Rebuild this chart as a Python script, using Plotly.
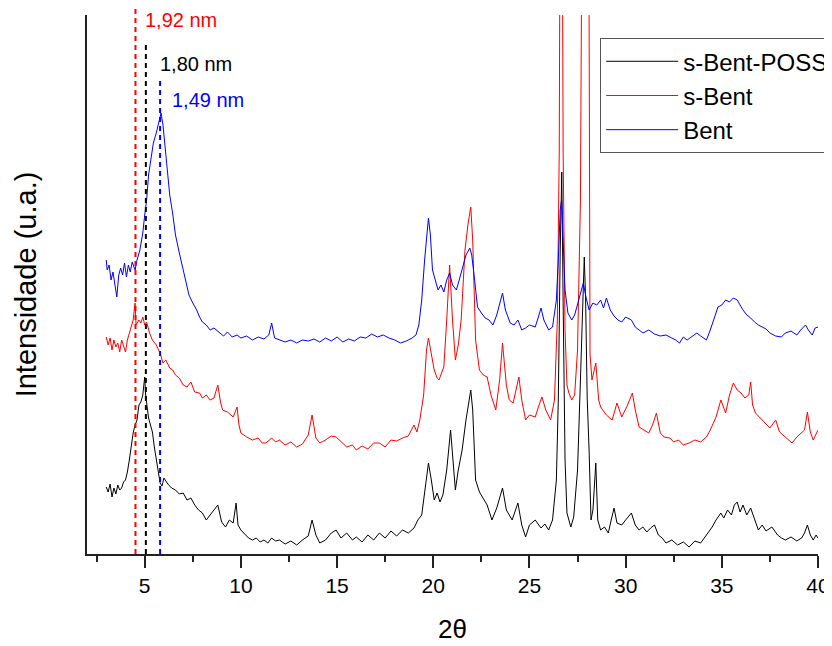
import plotly.graph_objects as go

# ---------------- data ----------------
two_theta_poss = [3.0, 3.1, 3.2, 3.3, 3.4, 3.5, 3.6, 3.7, 3.8, 3.9, 4.0, 4.1, 4.2, 4.3, 4.4, 4.5, 4.6, 4.7, 4.8, 4.9,
                  5.0, 5.05, 5.1, 5.2, 5.3, 5.4, 5.5, 5.6, 5.7, 5.8, 5.9, 6.0, 6.2, 6.4, 6.6, 6.8, 7.0, 7.2, 7.4, 7.6,
                  7.8, 8.0, 8.2, 8.4, 8.6, 8.8, 9.0, 9.2, 9.4, 9.6, 9.75, 9.85, 10.0, 10.2, 10.4, 10.6, 10.8, 11.0, 11.2, 11.4,
                  11.6, 11.8, 12.0, 12.3, 12.6, 12.9, 13.2, 13.5, 13.7, 13.9, 14.1, 14.4, 14.7, 14.95, 15.2, 15.5, 15.8, 16.0, 16.3, 16.6,
                  16.9, 17.2, 17.5, 17.8, 18.1, 18.4, 18.7, 19.0, 19.2, 19.4, 19.6, 19.75, 19.9, 20.05, 20.2, 20.35, 20.5, 20.7, 20.9, 21.05,
                  21.15, 21.3, 21.5, 21.7, 21.85, 21.95, 22.05, 22.2, 22.4, 22.55, 22.8, 23.05, 23.3, 23.6, 23.8, 24.1, 24.4, 24.6, 24.8, 25.0,
                  25.3, 25.6, 25.8, 26.0, 26.2, 26.4, 26.5, 26.6, 26.68, 26.75, 26.85, 26.95, 27.15, 27.3, 27.5, 27.65, 27.78, 27.85, 27.92, 28.0,
                  28.1, 28.2, 28.3, 28.45, 28.55, 28.7, 28.9, 29.1, 29.25, 29.4, 29.55, 29.8, 30.0, 30.3, 30.5, 30.7, 30.9, 31.1, 31.3, 31.5,
                  31.7, 31.9, 32.1, 32.4, 32.7, 33.0, 33.3, 33.6, 33.9, 34.1, 34.3, 34.5, 34.7, 34.95, 35.1, 35.3, 35.5, 35.65, 35.8, 35.95,
                  36.1, 36.3, 36.5, 36.7, 36.9, 37.1, 37.3, 37.6, 37.9, 38.1, 38.3, 38.6, 38.9, 39.15, 39.3, 39.45, 39.6, 39.75, 39.9, 40.0]
intensity_poss = [67, 62, 70, 57, 66, 60, 69, 64, 66, 72, 74, 82, 94, 109, 121, 129, 134, 149, 152, 159,
                  177, 159, 149, 136, 129, 122, 107, 94, 84, 71, 68, 76, 70, 66, 64, 60, 61, 54, 56, 49,
                  44, 41, 34, 39, 44, 49, 32, 27, 34, 31, 51, 29, 24, 20, 16, 14, 16, 12, 14, 11,
                  16, 13, 14, 10, 13, 9, 14, 18, 34, 19, 11, 14, 21, 24, 16, 21, 14, 17, 12, 19,
                  14, 21, 16, 23, 18, 24, 21, 26, 34, 39, 69, 91, 74, 54, 61, 52, 59, 84, 124, 84,
                  64, 84, 104, 134, 154, 164, 144, 74, 62, 57, 49, 34, 46, 66, 44, 34, 51, 29, 17, 29,
                  34, 26, 30, 24, 34, 74, 154, 304, 382, 254, 94, 41, 27, 37, 84, 174, 254, 297, 254, 157,
                  104, 34, 44, 91, 34, 24, 27, 21, 34, 46, 31, 29, 34, 41, 29, 24, 27, 22, 26, 29,
                  19, 16, 11, 14, 9, 12, 7, 13, 11, 16, 22, 27, 34, 41, 36, 44, 39, 49, 52, 42,
                  49, 39, 46, 34, 24, 29, 23, 27, 19, 16, 14, 17, 13, 16, 21, 29, 19, 14, 19, 16]

two_theta_sbent = [3.0, 3.1, 3.2, 3.3, 3.4, 3.5, 3.6, 3.7, 3.8, 3.9, 4.0, 4.1, 4.2, 4.3, 4.4, 4.5, 4.55, 4.7, 4.8, 4.9,
                   5.0, 5.1, 5.25, 5.4, 5.6, 5.8, 5.95, 6.1, 6.3, 6.45, 6.6, 6.8, 7.0, 7.2, 7.4, 7.6, 7.85, 8.0, 8.2, 8.4,
                   8.6, 8.8, 8.95, 9.05, 9.3, 9.6, 9.8, 9.9, 10.0, 10.3, 10.6, 10.9, 11.1, 11.3, 11.6, 11.8, 12.0, 12.3, 12.6, 12.9,
                   13.2, 13.5, 13.7, 13.9, 14.1, 14.4, 14.7, 14.95, 15.2, 15.5, 15.8, 16.0, 16.3, 16.6, 16.9, 17.2, 17.5, 17.8, 18.1, 18.4,
                   18.7, 19.0, 19.15, 19.3, 19.5, 19.65, 19.75, 19.9, 20.05, 20.2, 20.3, 20.45, 20.55, 20.7, 20.85, 21.0, 21.15, 21.3, 21.45, 21.65,
                   21.8, 21.95, 22.05, 22.2, 22.4, 22.6, 22.8, 23.0, 23.25, 23.45, 23.6, 23.8, 23.95, 24.15, 24.3, 24.45, 24.6, 24.8, 25.0, 25.3,
                   25.5, 25.65, 25.85, 26.1, 26.3, 26.45, 26.55, 26.65, 26.75, 26.85, 26.95, 27.05, 27.2, 27.35, 27.5, 27.65, 27.8, 28.05, 28.15, 28.25,
                   28.45, 28.6, 28.7, 29.0, 29.3, 29.55, 29.8, 30.1, 30.35, 30.5, 30.7, 30.95, 31.2, 31.4, 31.6, 31.8, 32.0, 32.3, 32.5, 32.75,
                   33.0, 33.3, 33.6, 33.9, 34.2, 34.4, 34.7, 34.95, 35.2, 35.4, 35.6, 35.8, 36.0, 36.2, 36.4, 36.5, 36.6, 36.75, 37.0, 37.3,
                   37.5, 37.8, 38.0, 38.3, 38.5, 38.65, 38.9, 39.15, 39.3, 39.45, 39.6, 39.75, 39.9, 40.0]
intensity_sbent = [217, 209, 216, 204, 214, 207, 211, 202, 214, 209, 202, 214, 221, 229, 234, 251, 229, 234, 231, 237,
                   229, 232, 221, 214, 209, 201, 191, 194, 186, 184, 179, 176, 169, 167, 172, 162, 161, 156, 159, 154,
                   156, 169, 151, 144, 142, 137, 147, 129, 121, 117, 114, 116, 111, 111, 116, 112, 114, 109, 112, 107,
                   110, 119, 139, 116, 111, 114, 118, 117, 112, 107, 109, 104, 108, 105, 111, 111, 107, 114, 113, 116,
                   118, 129, 122, 134, 159, 204, 216, 199, 184, 176, 174, 182, 187, 234, 289, 234, 194, 209, 234, 304,
                   329, 347, 314, 214, 184, 179, 177, 159, 144, 174, 211, 169, 154, 151, 164, 177, 154, 134, 139, 137,
                   149, 157, 144, 134, 154, 234, 404, 1000, 404, 224, 169, 161, 154, 159, 204, 354, 900, 900, 200, 174,
                   191, 154, 147, 139, 134, 151, 137, 149, 161, 144, 127, 124, 121, 129, 141, 121, 117, 116, 112, 114,
                   109, 111, 114, 112, 117, 124, 137, 154, 141, 159, 171, 164, 161, 156, 159, 172, 149, 141, 136, 131,
                   126, 134, 122, 117, 114, 111, 117, 121, 124, 142, 122, 114, 121, 124]

two_theta_bent = [3.0, 3.05, 3.15, 3.25, 3.35, 3.45, 3.55, 3.65, 3.75, 3.85, 3.95, 4.05, 4.15, 4.25, 4.35, 4.5, 4.6, 4.75, 4.9, 5.0,
                  5.1, 5.2, 5.3, 5.45, 5.6, 5.7, 5.85, 5.95, 6.05, 6.2, 6.3, 6.45, 6.6, 6.8, 7.0, 7.1, 7.3, 7.5, 7.7, 7.85,
                  8.0, 8.2, 8.4, 8.6, 8.9, 9.1, 9.3, 9.55, 9.8, 10.0, 10.3, 10.6, 10.9, 11.2, 11.45, 11.6, 11.75, 12.0, 12.3, 12.6,
                  12.9, 13.2, 13.5, 13.8, 14.1, 14.4, 14.7, 15.0, 15.3, 15.6, 15.9, 16.2, 16.5, 16.8, 17.1, 17.4, 17.7, 18.0, 18.3, 18.6,
                  18.9, 19.1, 19.25, 19.4, 19.55, 19.75, 19.85, 19.96, 20.1, 20.25, 20.4, 20.55, 20.7, 20.85, 21.0, 21.2, 21.35, 21.5, 21.7, 21.9,
                  22.0, 22.15, 22.3, 22.5, 22.7, 22.9, 23.1, 23.3, 23.45, 23.6, 23.75, 24.0, 24.2, 24.4, 24.6, 24.8, 25.0, 25.3, 25.45, 25.6,
                  25.75, 26.0, 26.2, 26.4, 26.5, 26.6, 26.67, 26.75, 26.85, 27.0, 27.2, 27.35, 27.5, 27.65, 27.8, 27.95, 28.1, 28.3, 28.5, 28.7,
                  28.85, 29.0, 29.2, 29.4, 29.6, 29.8, 30.0, 30.3, 30.5, 30.7, 30.9, 31.2, 31.5, 31.8, 32.1, 32.4, 32.6, 32.8, 33.0, 33.2,
                  33.5, 33.7, 33.9, 34.2, 34.4, 34.6, 34.8, 35.0, 35.2, 35.4, 35.6, 35.8, 35.95, 36.1, 36.3, 36.5, 36.7, 36.9, 37.1, 37.3,
                  37.5, 37.8, 38.1, 38.3, 38.6, 38.9, 39.1, 39.35, 39.5, 39.7, 39.85, 40.0]
intensity_bent = [294, 284, 289, 274, 282, 269, 257, 279, 286, 279, 291, 277, 289, 282, 292, 284, 294, 304, 321, 339,
                  354, 379, 394, 411, 421, 429, 441, 429, 409, 374, 359, 341, 319, 301, 284, 277, 259, 251, 244, 237,
                  232, 229, 224, 226, 221, 218, 222, 217, 219, 216, 218, 214, 217, 215, 219, 231, 216, 214, 212, 214,
                  211, 214, 213, 215, 212, 216, 213, 217, 212, 215, 213, 217, 216, 220, 217, 219, 216, 214, 211, 213,
                  216, 219, 229, 254, 294, 336, 319, 284, 274, 264, 269, 262, 274, 281, 269, 264, 274, 284, 299, 306,
                  299, 274, 247, 241, 236, 234, 229, 239, 249, 261, 244, 231, 229, 234, 224, 226, 229, 227, 236, 246,
                  234, 224, 227, 254, 294, 344, 354, 314, 264, 241, 234, 239, 249, 259, 271, 256, 244, 251, 249, 254,
                  246, 256, 244, 238, 234, 232, 237, 234, 227, 224, 221, 224, 220, 218, 219, 216, 214, 211, 217, 214,
                  218, 221, 218, 214, 224, 236, 247, 249, 254, 252, 256, 254, 249, 244, 239, 236, 232, 229, 227, 225,
                  221, 218, 217, 221, 223, 219, 224, 229, 224, 219, 226, 227]

series_names = ["s-Bent-POSS", "s-Bent", "Bent"]
series_colors = ["#000000", "#ff0000", "#0000ff"]

# basal-spacing markers (2θ position, label)
marker_positions = [4.52, 5.06, 5.8]
marker_labels = ["1,92 nm", "1,80 nm", "1,49 nm"]
marker_colors = ["#ff0000", "#000000", "#0000ff"]
marker_tops = [1.015, 0.95, 0.883]
label_y = [0.99, 0.91, 0.842]
label_shift = [8, 12, 10]

FONT = "Liberation Sans, Arial, sans-serif"

fig = go.Figure()
for xs, ys, name, col in zip([two_theta_poss, two_theta_sbent, two_theta_bent],
                             [intensity_poss, intensity_sbent, intensity_bent],
                             series_names, series_colors):
    fig.add_trace(go.Scatter(x=xs, y=ys, mode="lines", name=name,
                             line=dict(color=col, width=1)))

for xpos, lab, col, top, ly, sh in zip(marker_positions, marker_labels, marker_colors,
                                       marker_tops, label_y, label_shift):
    fig.add_shape(type="line", xref="x", yref="paper", x0=xpos, x1=xpos, y0=0, y1=top,
                  line=dict(color=col, width=2, dash="5px,4px"))
    fig.add_annotation(x=xpos, y=ly, xref="x", yref="paper", text=lab, showarrow=False,
                       xanchor="left", yanchor="middle", xshift=sh,
                       font=dict(family=FONT, size=20, color=col))

# the page adds an 8 px body margin: figure is 8 px smaller, plot placed to match
fig.update_layout(
    width=824, height=638,
    margin=dict(l=79, r=14, t=7, b=92, autoexpand=False),
    paper_bgcolor="white", plot_bgcolor="white",
    font=dict(family=FONT, color="#000000"),
    showlegend=True,
    legend=dict(x=0.702, y=0.957, xanchor="left", yanchor="top",
                bgcolor="white", bordercolor="#555555", borderwidth=1,
                font=dict(family=FONT, size=24, color="#000000"),
                tracegroupgap=0, itemwidth=72),
    xaxis=dict(range=[2, 40], showgrid=False, zeroline=False,
               showline=True, linecolor="#222222", linewidth=2,
               ticks="outside", ticklen=12, tickwidth=2, tickcolor="#222222",
               tick0=0, dtick=5,
               minor=dict(dtick=2.5, ticks="outside", ticklen=6, tickwidth=2, tickcolor="#222222"),
               tickfont=dict(family=FONT, size=21, color="#000000"),
               title=dict(text="2θ", font=dict(family=FONT, size=26, color="#000000"), standoff=24)),
    yaxis=dict(range=[0, 539], showgrid=False, zeroline=False,
               showline=True, linecolor="#222222", linewidth=2,
               showticklabels=False, ticks="",
               title=dict(text="Intensidade (u.a.)", font=dict(family=FONT, size=29, color="#000000"),
                          standoff=40)),
)

fig.write_html("out.html")
